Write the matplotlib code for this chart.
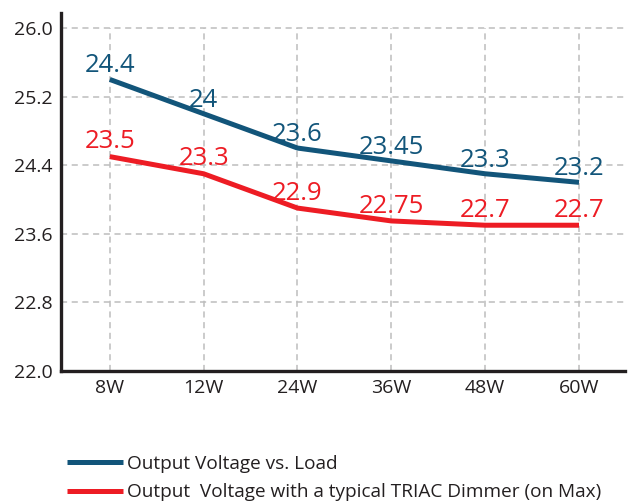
import matplotlib
matplotlib.use("Agg")
import matplotlib.pyplot as plt
import numpy as np

plt.rcParams['font.family'] = ['Open Sans', 'DejaVu Sans']

# data
loads = ['8W', '12W', '24W', '36W', '48W', '60W']
# positions
load_pos = [25.4, 25.0, 24.6, 24.45, 24.3, 24.2]
dimmer_pos = [24.5, 24.3, 23.9, 23.75, 23.7, 23.7]
# values printed next to the points
load_labels = ['24.4', '24', '23.6', '23.45', '23.3', '23.2']
dimmer_labels = ['23.5', '23.3', '22.9', '22.75', '22.7', '22.7']
yticks = [22.0, 22.8, 23.6, 24.4, 25.2, 26.0]

blue = '#12557a'
red = '#ed1c24'
dark = '#231f20'
grid_col = '#bdbdbd'

fig = plt.figure(figsize=(6.36, 5.03), dpi=100)
ax = fig.add_axes([0.0959, 0.2624, 0.8868, 0.7118])

x = np.arange(len(loads))

# grid
for yv in yticks[1:]:
    ax.axhline(yv, color=grid_col, lw=1.1, ls=(0, (4, 3)), zorder=1)
ax.vlines(x, yticks[0], yticks[-1], color=grid_col, lw=1.1, ls=(0, (4, 3)), zorder=1)

l1, = ax.plot(x, load_pos, color=blue, lw=3.6, solid_joinstyle='round',
              solid_capstyle='butt', zorder=3, label='Output Voltage vs. Load')
l2, = ax.plot(x, dimmer_pos, color=red, lw=3.6, solid_joinstyle='round',
              solid_capstyle='butt', zorder=3,
              label='Output  Voltage with a typical TRIAC Dimmer (on Max)')

for xi, yv, t in zip(x, load_pos, load_labels):
    ax.annotate(t, (xi, yv), xytext=(0, 5), textcoords='offset points',
                ha='center', va='baseline', color=blue, fontsize=18.5, zorder=4)
for xi, yv, t in zip(x, dimmer_pos, dimmer_labels):
    ax.annotate(t, (xi, yv), xytext=(0, 6), textcoords='offset points',
                ha='center', va='baseline', color=red, fontsize=18.5, zorder=4)

ax.set_xlim(-0.52, 5.49)
ax.set_ylim(22.0, 26.175)
ax.set_xticks(x)
ax.set_xticklabels(loads)
ax.set_yticks(yticks)
ax.set_yticklabels(['%.1f' % v for v in yticks])
ax.tick_params(length=0, labelsize=14, colors=dark, pad=6)

for s in ['top', 'right']:
    ax.spines[s].set_visible(False)
for s in ['left', 'bottom']:
    ax.spines[s].set_linewidth(2.4)
    ax.spines[s].set_color(dark)

fig.legend(handles=[l1, l2], loc='upper left', bbox_to_anchor=(0.1053, 0.0964),
           frameon=False, fontsize=13.7, handlelength=2.95, handletextpad=0.21,
           labelspacing=0.57, borderaxespad=0, borderpad=0, labelcolor=dark)

fig.savefig('out.png', dpi=100)
